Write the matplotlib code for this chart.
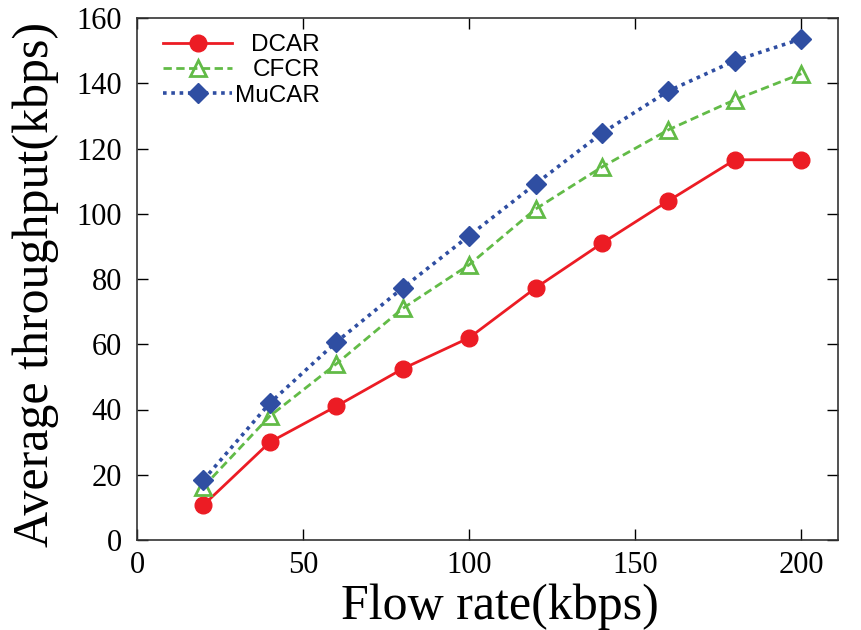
import numpy as np
import matplotlib.pyplot as plt

# 数据
flow_rate = [20, 40, 60, 80, 100, 120, 140, 160, 180, 200]
dcar = [10.7, 30, 41, 52.5, 62, 77.3, 91, 104, 116.6, 116.6]
cfcr = [16.3, 38, 54, 71, 84.4, 101.5, 114.4, 125.8, 135, 143]
mucar = [18.4, 42, 60.7, 77.3, 93.3, 109.2, 124.8, 137.7, 147, 153.7]

serif = ['Liberation Serif', 'DejaVu Serif']

fig = plt.figure(figsize=(8.62, 6.30), dpi=100)
ax = fig.add_axes([0.159, 0.143, 0.813, 0.828])

ax.plot(flow_rate, dcar, color='#ec1c24', lw=2, marker='o', ms=12,
    label='DCAR')
ax.plot(flow_rate, cfcr, color='#62bb47', lw=2, ls=(0, (3, 1.6)),
    marker='^', ms=11, mfc='none', mew=2, label='CFCR')
ax.plot(flow_rate, mucar, color='#2f4ea2', lw=2.6, ls=(0, (1, 1.3)),
    marker='D', ms=10.5, label='MuCAR')

ax.set_xlim(0, 211)
ax.set_ylim(0, 160)
ax.set_xticks([0, 50, 100, 150, 200])
ax.set_yticks(np.arange(0, 161, 20))
ax.tick_params(direction='in', top=True, right=True, length=8, width=1,
    labelsize=22)
ax.tick_params(axis='x', pad=8)
ax.tick_params(axis='y', pad=11)
for lbl in ax.get_xticklabels() + ax.get_yticklabels():
    lbl.set_family(serif)
for s in ax.spines.values():
    s.set_linewidth(1.2)
    s.set_color('#333333')

ax.set_xlabel('Flow rate(kbps)', family=serif, fontsize=36)
ax.set_ylabel('Average throughput(kbps)', family=serif, fontsize=36)
ax.xaxis.set_label_coords(0.518, -0.083)
ax.yaxis.set_label_coords(-0.112, 0.49)

leg = ax.legend(loc='upper left', bbox_to_anchor=(0.023, 0.988),
    frameon=False, handlelength=2.85, handletextpad=0.12,
    labelspacing=0.13, borderaxespad=0,
    prop={'family': ['Liberation Sans'], 'size': 17.5})

# 图例文字右对齐
fig.canvas.draw()
r = fig.canvas.get_renderer()
texts = leg.get_texts()
ws = [t.get_window_extent(r).width for t in texts]
for t, w in zip(texts, ws):
    t.set_position((max(ws) - w, 0))

plt.savefig('out.png')
